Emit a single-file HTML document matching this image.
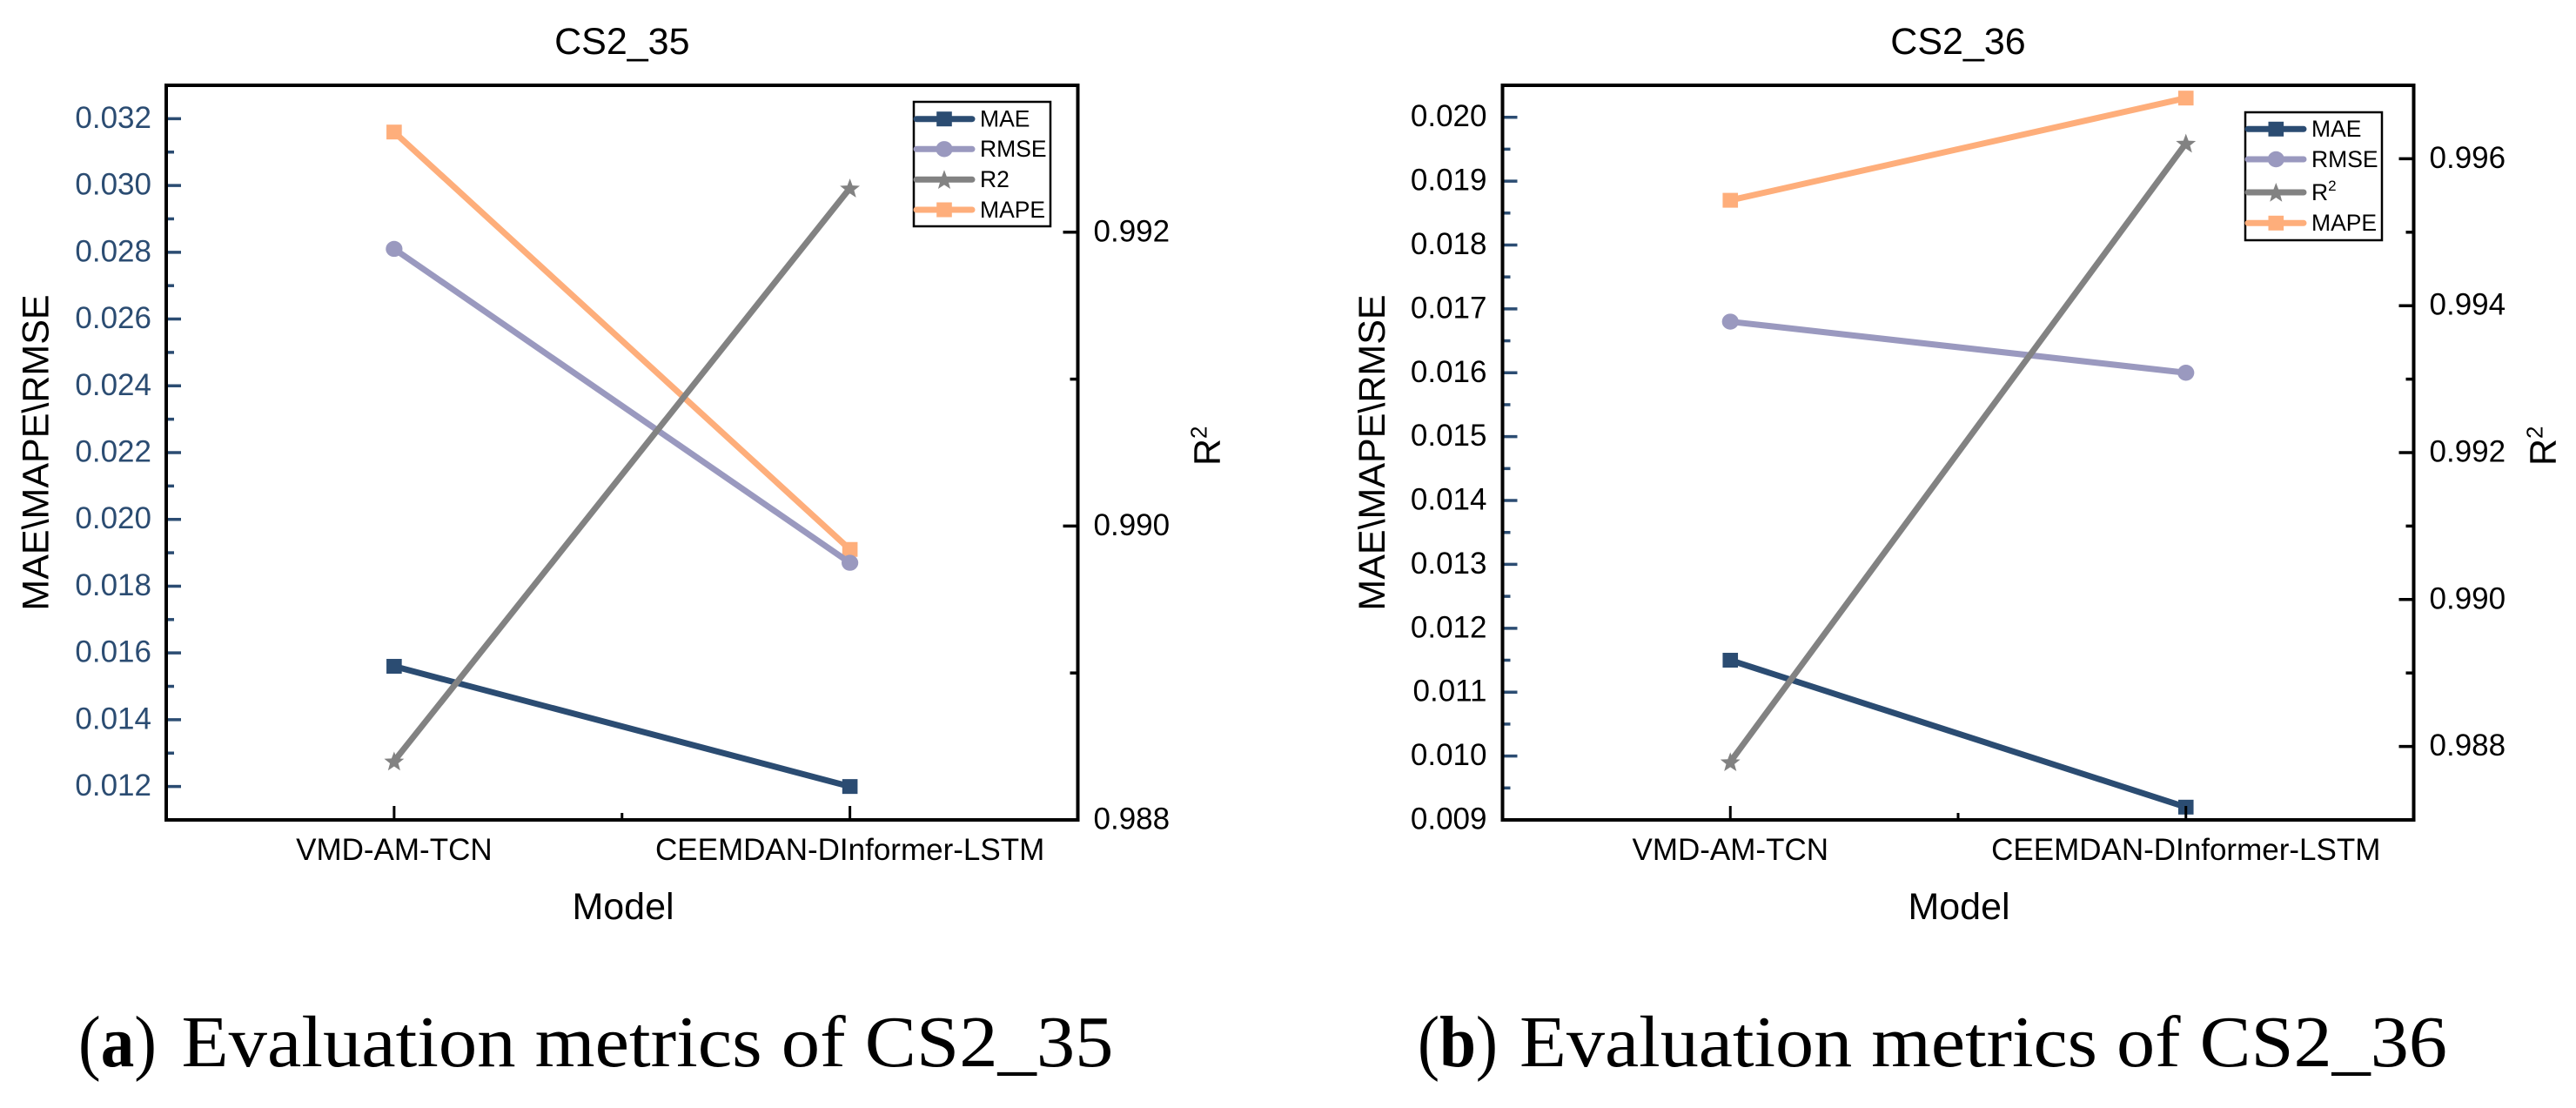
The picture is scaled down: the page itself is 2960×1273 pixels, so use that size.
<!DOCTYPE html>
<html lang="en">
<head>
<meta charset="utf-8">
<title>Evaluation metrics of CS2_35 and CS2_36</title>
<style>
  html, body { margin: 0; padding: 0; background: #ffffff; }
  svg { display: block; }
  text { font-family: "Liberation Sans", Arial, sans-serif; fill: #000; }
  .caption { font-family: "Liberation Serif", "Times New Roman", serif; font-size: 84px; }
  .title, .axis-title { font-size: 43px; }
  .tick-label { font-size: 35px; }
  .legend-label { font-size: 26.5px; }
</style>
</head>
<body>
<svg id="figure" xmlns="http://www.w3.org/2000/svg" width="2960" height="1273" viewBox="0 0 2960 1273">
  <rect x="0" y="0" width="2960" height="1273" fill="#ffffff"/>

  <g id="panel-a"></g>
  <g id="panel-b"></g>

  <text class="title" x="714.8" y="62" text-anchor="middle">CS2_35</text>
  <text class="title" x="2250" y="62" text-anchor="middle">CS2_36</text>

  <text class="axis-title" transform="translate(55.5,520) rotate(-90)" text-anchor="middle">MAE\MAPE\RMSE</text>
  <text class="axis-title" transform="translate(1591,520) rotate(-90)" text-anchor="middle">MAE\MAPE\RMSE</text>

  <text class="axis-title" transform="translate(1401.5,535) rotate(-90)">R<tspan font-size="26" dy="-15">2</tspan></text>
  <text class="axis-title" transform="translate(2936.5,535) rotate(-90)">R<tspan font-size="26" dy="-15">2</tspan></text>

  <text class="axis-title" x="716" y="1056" text-anchor="middle">Model</text>
  <text class="axis-title" x="2251" y="1056" text-anchor="middle">Model</text>

  <text class="caption" x="90" y="1225" textLength="90" lengthAdjust="spacingAndGlyphs">(<tspan font-weight="bold">a</tspan>)</text>
  <text class="caption" x="208.5" y="1225" textLength="1071" lengthAdjust="spacingAndGlyphs">Evaluation metrics of CS2_35</text>
  <text class="caption" x="1629" y="1225" textLength="92" lengthAdjust="spacingAndGlyphs">(<tspan font-weight="bold">b</tspan>)</text>
  <text class="caption" x="1746" y="1225" textLength="1066" lengthAdjust="spacingAndGlyphs">Evaluation metrics of CS2_36</text>
</svg>

<script>
// ---------- chart data ----------
const categories = ['VMD-AM-TCN', 'CEEMDAN-DInformer-LSTM'];

const mae35 = [0.0156, 0.0120];
const rmse35 = [0.0281, 0.0187];
const r2_35 = [0.9884, 0.9923];
const mape35 = [0.0316, 0.0191];

const mae36 = [0.0115, 0.0092];
const rmse36 = [0.0168, 0.0160];
const r2_36 = [0.98779, 0.99621];
const mape36 = [0.0187, 0.0203];

const leftTicks35 = ['0.012', '0.014', '0.016', '0.018', '0.020', '0.022', '0.024', '0.026', '0.028', '0.030', '0.032'];
const leftMinor35 = [0.013, 0.015, 0.017, 0.019, 0.021, 0.023, 0.025, 0.027, 0.029, 0.031];
const rightTicks35 = ['0.988', '0.990', '0.992'];
const rightMinor35 = [0.989, 0.991];

const leftTicks36 = ['0.009', '0.010', '0.011', '0.012', '0.013', '0.014', '0.015', '0.016', '0.017', '0.018', '0.019', '0.020'];
const leftMinor36 = [0.0095, 0.0105, 0.0115, 0.0125, 0.0135, 0.0145, 0.0155, 0.0165, 0.0175, 0.0185, 0.0195];
const rightTicks36 = ['0.988', '0.990', '0.992', '0.994', '0.996'];
const rightMinor36 = [0.989, 0.991, 0.993, 0.995];

const legendLabels35 = ['MAE', 'RMSE', 'R2', 'MAPE'];
const legendLabels36 = ['MAE', 'RMSE', 'R^2', 'MAPE'];

// ---------- styling ----------
const NAVY = '#2b4c72';
const PURPLE = '#9a99bf';
const GREY = '#828282';
const ORANGE = '#feae7b';
const SVGNS = 'http://www.w3.org/2000/svg';

function el(parent, tag, attrs) {
  const node = document.createElementNS(SVGNS, tag);
  for (const k in attrs) node.setAttribute(k, attrs[k]);
  parent.appendChild(node);
  return node;
}

function starPoints(cx, cy, R) {
  const pts = [];
  for (let i = 0; i < 10; i++) {
    const r = i % 2 === 0 ? R : R * 0.42;
    const a = -Math.PI / 2 + i * Math.PI / 5;
    pts.push((cx + r * Math.cos(a)).toFixed(2) + ',' + (cy + r * Math.sin(a)).toFixed(2));
  }
  return pts.join(' ');
}

function drawMarker(group, kind, cx, cy, color, scale) {
  let m;
  if (kind === 'square') {
    m = el(group, 'rect', { x: cx - 8.8 * scale, y: cy - 8.5 * scale, width: 17.6 * scale, height: 17 * scale, fill: color });
  } else if (kind === 'circle') {
    m = el(group, 'ellipse', { cx: cx, cy: cy, rx: 9.6 * scale, ry: 9.2 * scale, fill: color });
  } else {
    m = el(group, 'polygon', { points: starPoints(cx, cy + 1, 12 * scale), fill: color });
  }
  return m;
}

function drawPanel(cfg) {
  const g = document.getElementById(cfg.id);
  const xScale = c => cfg.left + (c - 0.5) / 2 * (cfg.right - cfg.left);
  const yLeft = v => cfg.bottom - (v - cfg.leftMin) / (cfg.leftMax - cfg.leftMin) * (cfg.bottom - cfg.top);
  const yRight = v => cfg.bottom - (v - cfg.rightMin) / (cfg.rightMax - cfg.rightMin) * (cfg.bottom - cfg.top);

  // series lines and markers
  cfg.series.forEach(s => {
    const y = s.axis === 'right' ? yRight : yLeft;
    const pts = s.values.map((v, i) => xScale(i + 1).toFixed(2) + ',' + y(v).toFixed(2)).join(' ');
    const line = el(g, 'polyline', { points: pts, fill: 'none', stroke: s.color, 'stroke-width': 7 });
    
    
    s.values.forEach((v, i) => {
      const m = drawMarker(g, s.marker, xScale(i + 1), y(v), s.color, 1);
      
      
    });
  });

  // left ticks
  cfg.leftTicks.forEach(t => {
    const y = yLeft(parseFloat(t));
    if (y < cfg.bottom - 3) {
      const tick = el(g, 'line', { x1: cfg.left, x2: cfg.left + 17, y1: y, y2: y, stroke: NAVY, 'stroke-width': 3.5 });
      
      
    }
    const lab = el(g, 'text', { class: 'tick-label', x: cfg.left + cfg.leftLabelDx, y: y + 10.5, 'text-anchor': 'end' });
    lab.style.fill = cfg.leftLabelColor;
    lab.textContent = t;
    
    
  });
  cfg.leftMinor.forEach(v => {
    const y = yLeft(v);
    const tick = el(g, 'line', { x1: cfg.left, x2: cfg.left + 9, y1: y, y2: y, stroke: NAVY, 'stroke-width': 3.5 });
    
    
  });

  // right ticks
  cfg.rightTicks.forEach(t => {
    const y = yRight(parseFloat(t));
    if (y < cfg.bottom - 3) {
      const tick = el(g, 'line', { x1: cfg.right, x2: cfg.right - 17, y1: y, y2: y, stroke: '#000', 'stroke-width': 3.5 });
      
      
    }
    const lab = el(g, 'text', { class: 'tick-label', x: cfg.right + 18, y: y + 10.5 });
    lab.textContent = t;
    
    
  });
  cfg.rightMinor.forEach(v => {
    const y = yRight(v);
    const tick = el(g, 'line', { x1: cfg.right, x2: cfg.right - 9, y1: y, y2: y, stroke: '#000', 'stroke-width': 3.5 });
    
    
  });

  // x ticks and labels
  categories.forEach((c, i) => {
    const x = xScale(i + 1);
    const tick = el(g, 'line', { x1: x, x2: x, y1: cfg.bottom, y2: cfg.bottom - 16, stroke: '#000', 'stroke-width': 3 });
    
    
    const lab = el(g, 'text', { class: 'tick-label', x: x, y: 988, 'text-anchor': 'middle' });
    lab.textContent = c;
    
    
  });
  const midX = xScale(1.5);
  const midTick = el(g, 'line', { x1: midX, x2: midX, y1: cfg.bottom, y2: cfg.bottom - 8, stroke: '#000', 'stroke-width': 3 });
  
  

  // frame
  const frame = el(g, 'rect', { x: cfg.left, y: cfg.top, width: cfg.right - cfg.left, height: cfg.bottom - cfg.top, fill: 'none', stroke: '#000', 'stroke-width': 4 });
  
  

  // legend
  const L = cfg.legend;
  const legend = el(g, 'g', {});
  
  
  const box = el(legend, 'rect', { x: L.x, y: L.y, width: L.w, height: L.h, fill: '#fff', stroke: '#000', 'stroke-width': 2.5 });
  
  
  cfg.legendOrder.forEach((s, i) => {
    const ly = L.rows[i];
    const swatch = el(legend, 'line', { x1: L.x + 3, x2: L.x + L.lineLen - 3, y1: ly, y2: ly, stroke: s.color, 'stroke-width': 7, 'stroke-linecap': 'round' });
    
    
    const mk = drawMarker(legend, s.marker, L.x + L.markerDx, ly, s.color, 1);
    
    
    const tx = el(legend, 'text', { class: 'legend-label', x: L.textX, y: ly + 8.8 });
    const parts = cfg.legendLabels[i].split('^');
    tx.textContent = parts[0];
    if (parts[1]) {
      const sup = el(tx, 'tspan', { 'font-size': 17, dy: -11 });
      sup.textContent = parts[1];
    }
    
    
  });
}

function makeSeries(mae, rmse, r2, mape) {
  return {
    mae: { key: 'mae', values: mae, color: NAVY, marker: 'square', axis: 'left' },
    rmse: { key: 'rmse', values: rmse, color: PURPLE, marker: 'circle', axis: 'left' },
    r2: { key: 'r2', values: r2, color: GREY, marker: 'star', axis: 'right' },
    mape: { key: 'mape', values: mape, color: ORANGE, marker: 'square', axis: 'left' }
  };
}

const s35 = makeSeries(mae35, rmse35, r2_35, mape35);
const s36 = makeSeries(mae36, rmse36, r2_36, mape36);

drawPanel({
  id: 'panel-a',
  left: 191, right: 1238.5, top: 98, bottom: 942,
  leftMin: 0.011, leftMax: 0.033,
  rightMin: 0.988, rightMax: 0.993,
  leftTicks: leftTicks35, leftMinor: leftMinor35,
  rightTicks: rightTicks35, rightMinor: rightMinor35,
  leftLabelColor: NAVY, leftLabelDx: -17,
  series: [s35.mae, s35.mape, s35.rmse, s35.r2],
  legendOrder: [s35.mae, s35.rmse, s35.r2, s35.mape],
  legendLabels: legendLabels35,
  legend: { x: 1050, y: 117, w: 157, h: 143, lineLen: 70, markerDx: 35, textX: 1126, rows: [136.7, 171.3, 206.3, 241] }
});

drawPanel({
  id: 'panel-b',
  left: 1726.5, right: 2773.5, top: 98, bottom: 942,
  leftMin: 0.009, leftMax: 0.0205,
  rightMin: 0.987, rightMax: 0.997,
  leftTicks: leftTicks36, leftMinor: leftMinor36,
  rightTicks: rightTicks36, rightMinor: rightMinor36,
  leftLabelColor: '#000', leftLabelDx: -18,
  series: [s36.mae, s36.mape, s36.rmse, s36.r2],
  legendOrder: [s36.mae, s36.rmse, s36.r2, s36.mape],
  legendLabels: legendLabels36,
  legend: { x: 2580, y: 129, w: 157, h: 147, lineLen: 70, markerDx: 35.3, textX: 2656, rows: [148.3, 183, 221, 256.3] }
});
</script>
</body>
</html>
